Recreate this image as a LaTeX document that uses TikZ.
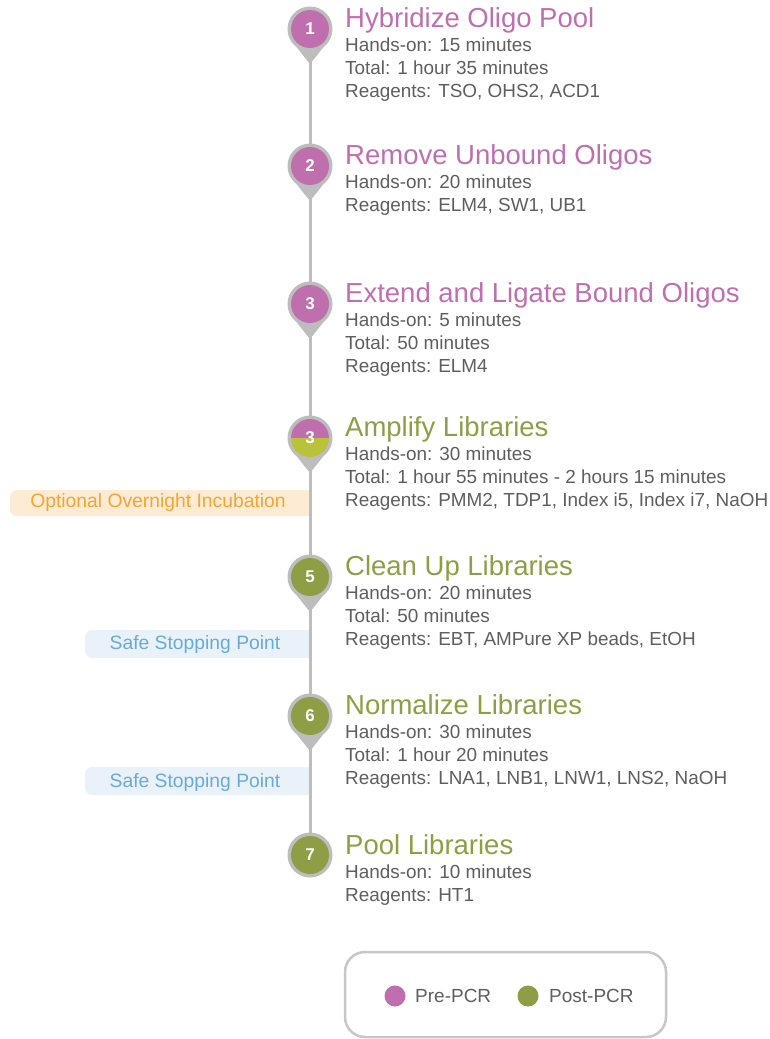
\documentclass[tikz,border=0pt]{standalone}
\usepackage{fontspec}
\usetikzlibrary{calc}
\setmainfont{Liberation Sans}
\definecolor{pre}{HTML}{C06FAE}
\definecolor{post}{HTML}{8E9E45}
\definecolor{amp}{HTML}{B9C33A}
\definecolor{pinrim}{HTML}{BDBDBD}
\definecolor{bodytxt}{HTML}{5E5E5E}
\definecolor{orangetxt}{HTML}{F5A533}
\definecolor{orangebg}{HTML}{FDEBD4}
\definecolor{bluetxt}{HTML}{6AAAD8}
\definecolor{bluebg}{HTML}{EAF2F9}
\begin{document}
\begin{tikzpicture}[x=1pt,y=-1pt,
  rim/.style={circle,fill=pinrim,minimum size=45pt,inner sep=0pt},
  dot/.style={circle,fill=#1,minimum size=38pt,inner sep=0pt,text=white,font=\fontsize{17}{17}\selectfont\bfseries},
  ttl/.style={anchor=base west,inner sep=0pt,text=#1,font=\fontsize{27.5}{27.5}\selectfont},
  bdy/.style={anchor=base west,inner sep=0pt,text=bodytxt,font=\fontsize{18.9}{23}\selectfont},
  side/.style={anchor=center,inner sep=0pt,text=#1,font=\fontsize{19.3}{19.3}\selectfont},
  legtxt/.style={anchor=west,inner sep=0pt,text=bodytxt,font=\fontsize{19}{19}\selectfont}]
\useasboundingbox (0,0) rectangle (770,1039);
% positions of the pins
\coordinate (p1) at (310,29);
\coordinate (p2) at (310,166);
\coordinate (p3) at (310,304);
\coordinate (p4) at (310,438);
\coordinate (p5) at (310,577);
\coordinate (p6) at (310,716);
\coordinate (p7) at (310,855);
% side boxes (behind the line)
\fill[orangebg,rounded corners=7pt] (10,490) rectangle (318,516);
\node[side=orangetxt] (opt) at (158,503) {Optional Overnight Incubation};
\fill[bluebg,rounded corners=7pt] (85,630) rectangle (318,658);
\node[side=bluetxt] (ssp1) at (195,645) {Safe Stopping Point};
\fill[bluebg,rounded corners=7pt] (85,767) rectangle (318,795);
\node[side=bluetxt] (ssp2) at (195,782) {Safe Stopping Point};
\fill[white] (311.5,480) rectangle (330,800);
% timeline
\draw[pinrim,line width=3pt] (p1) -- (p7);
% pins
\foreach \p in {p1,p2,p3,p4,p5,p6}{
  \fill[pinrim] ($(\p)+(-17.5,13)$) -- ($(\p)+(0,35)$) -- ($(\p)+(17.5,13)$) -- cycle;
}
\foreach \p in {p1,p2,p3,p4,p5,p6,p7}{
  \node[rim] at (\p) {};
}
\node[dot=pre] (c1) at (p1) {1};
\node[dot=pre] (c2) at (p2) {2};
\node[dot=pre] (c3) at (p3) {3};
\begin{scope}
  \clip (280,400) rectangle (340,438);
  \fill[pre] (p4) circle (19pt);
\end{scope}
\begin{scope}
  \clip (280,438) rectangle (340,470);
  \fill[amp] (p4) circle (19pt);
\end{scope}
\node[circle,minimum size=38pt,inner sep=0pt,text=white,font=\fontsize{17}{17}\selectfont\bfseries] (c4) at (p4) {3};
\node[dot=post] (c5) at (p5) {5};
\node[dot=post] (c6) at (p6) {6};
\node[dot=post] (c7) at (p7) {7};
% texts
\node[ttl=pre] (t1) at (345,27) {Hybridize Oligo Pool};
\node[bdy] at (345,51) {Hands-on: 15 minutes};
\node[bdy] at (345,74) {Total: 1 hour 35 minutes};
\node[bdy] at (345,97) {Reagents: TSO, OHS2, ACD1};
\node[ttl=pre] (t2) at (345,164) {Remove Unbound Oligos};
\node[bdy] at (345,188) {Hands-on: 20 minutes};
\node[bdy] at (345,211) {Reagents: ELM4, SW1, UB1};
\node[ttl=pre] (t3) at (345,302) {Extend and Ligate Bound Oligos};
\node[bdy] at (345,326) {Hands-on: 5 minutes};
\node[bdy] at (345,349) {Total: 50 minutes};
\node[bdy] at (345,372) {Reagents: ELM4};
\node[ttl=post] (t4) at (345,436) {Amplify Libraries};
\node[bdy] at (345,460) {Hands-on: 30 minutes};
\node[bdy] at (345,483) {Total: 1 hour 55 minutes - 2 hours 15 minutes};
\node[bdy] at (345,506) {Reagents: PMM2, TDP1, Index i5, Index i7, NaOH};
\node[ttl=post] (t5) at (345,575) {Clean Up Libraries};
\node[bdy] at (345,599) {Hands-on: 20 minutes};
\node[bdy] at (345,622) {Total: 50 minutes};
\node[bdy] at (345,645) {Reagents: EBT, AMPure XP beads, EtOH};
\node[ttl=post] (t6) at (345,714) {Normalize Libraries};
\node[bdy] at (345,738) {Hands-on: 30 minutes};
\node[bdy] at (345,761) {Total: 1 hour 20 minutes};
\node[bdy] at (345,784) {Reagents: LNA1, LNB1, LNW1, LNS2, NaOH};
\node[ttl=post] (t7) at (345,854) {Pool Libraries};
\node[bdy] at (345,878) {Hands-on: 10 minutes};
\node[bdy] at (345,901) {Reagents: HT1};
% legend
\draw[pinrim!85!white,line width=2.5pt,rounded corners=20pt] (345,952) rectangle (666,1037);
\node[circle,fill=pre,minimum size=21pt,inner sep=0pt] (lpre) at (395,996) {};
\node[legtxt] at (415,996) {Pre-PCR};
\node[circle,fill=post,minimum size=21pt,inner sep=0pt] (lpost) at (528,996) {};
\node[legtxt] at (549,996) {Post-PCR};
\end{tikzpicture}
\end{document}
